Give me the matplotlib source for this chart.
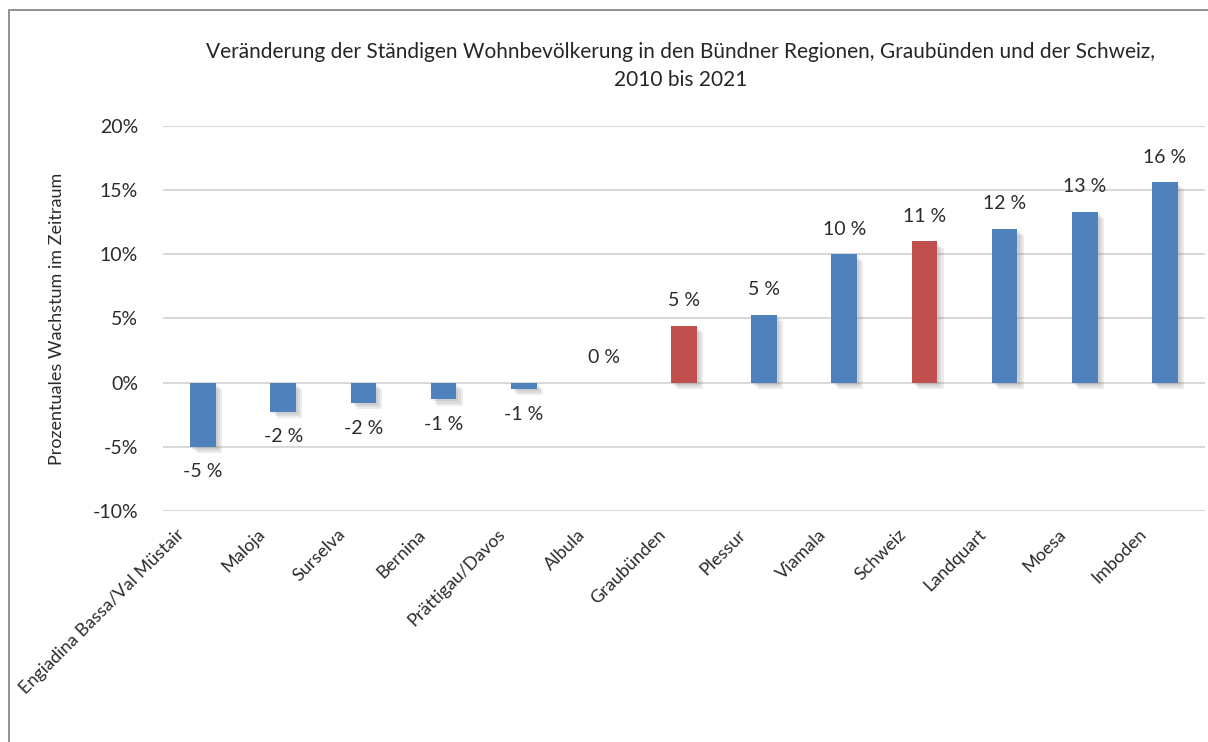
import matplotlib
matplotlib.use("Agg")
import matplotlib.pyplot as plt
import matplotlib.patheffects as pe
import matplotlib.transforms as mtransforms
from matplotlib.patches import Rectangle

regions = ["Engiadina Bassa/Val Müstair", "Maloja", "Surselva", "Bernina",
           "Prättigau/Davos", "Albula", "Graubünden", "Plessur", "Viamala",
           "Schweiz", "Landquart", "Moesa", "Imboden"]
growth = [-5.0, -2.25, -1.6, -1.3, -0.5, 0.0, 4.45, 5.3, 10.0, 11.0, 12.0, 13.3, 15.6]
value_labels = ["-5 %", "-2 %", "-2 %", "-1 %", "-1 %", "0 %", "5 %", "5 %",
                "10 %", "11 %", "12 %", "13 %", "16 %"]
highlight = ["Graubünden", "Schweiz"]
yticks = [-10, -5, 0, 5, 10, 15, 20]

plt.rcParams['font.family'] = ['Lato', 'DejaVu Sans']
text_col = "#2b2b2b"

fig = plt.figure(figsize=(12.08, 7.42), dpi=100)
W, H = 1208, 742
ax = fig.add_axes([163 / W, 1 - 511 / H, (1205 - 163) / W, (511 - 126) / H])

# frame around the chart
fig.patches.append(Rectangle((9 / W, -0.05), 1.1, 1 - 10 / H + 0.05,
                             transform=fig.transFigure, fill=False,
                             edgecolor="#7f7f7f", linewidth=1.2))

colors = ["#C0504D" if r in highlight else "#4F81BD" for r in regions]
x = range(len(regions))
bars = ax.bar(x, growth, width=0.32, color=colors, zorder=3)
# soft drop shadow, a few stacked layers
shadow = [pe.SimplePatchShadow(offset=(d, -d), shadow_rgbFace="#7a7a7a", alpha=0.14)
          for d in (1.5, 3, 4.5)]
for b in bars:
    b.set_path_effects(shadow + [pe.Normal()])

for i, (v, lab) in enumerate(zip(growth, value_labels)):
    off = -25 if v < 0 else 25
    ax.annotate(lab, (i, v), xytext=(0, off), textcoords="offset pixels",
                ha="center", va="center", fontsize=14, color=text_col)

ax.set_xlim(-0.5, len(regions) - 0.5)
ax.set_ylim(-10, 20)
ax.set_yticks(yticks)
ax.set_yticklabels([f"{t}%" for t in yticks], fontsize=14, color=text_col)
ax.yaxis.grid(True, color="#d9d9d9", linewidth=1.5, zorder=0)
ax.tick_params(axis="both", length=0)
ax.tick_params(axis="y", pad=18)
for s in ax.spines.values():
    s.set_visible(False)

ax.set_xticks(list(x))
ax.set_xticklabels(regions, rotation=45, ha="right", va="center",
                   rotation_mode="anchor", fontsize=13, color=text_col)
shift = mtransforms.ScaledTranslation(-21 / 100, -16 / 100, fig.dpi_scale_trans)
for t in ax.get_xticklabels():
    t.set_transform(t.get_transform() + shift)

ax.set_ylabel("Prozentuales Wachstum im Zeitraum", fontsize=13, color=text_col, labelpad=20)

fig.text(681 / W, 1 - 66 / H,
         "Veränderung der Ständigen Wohnbevölkerung in den Bündner Regionen, Graubünden und der Schweiz,\n2010 bis 2021",
         ha="center", va="center", fontsize=15, color="#262626", linespacing=1.45)

fig.savefig("out.png", dpi=100)
